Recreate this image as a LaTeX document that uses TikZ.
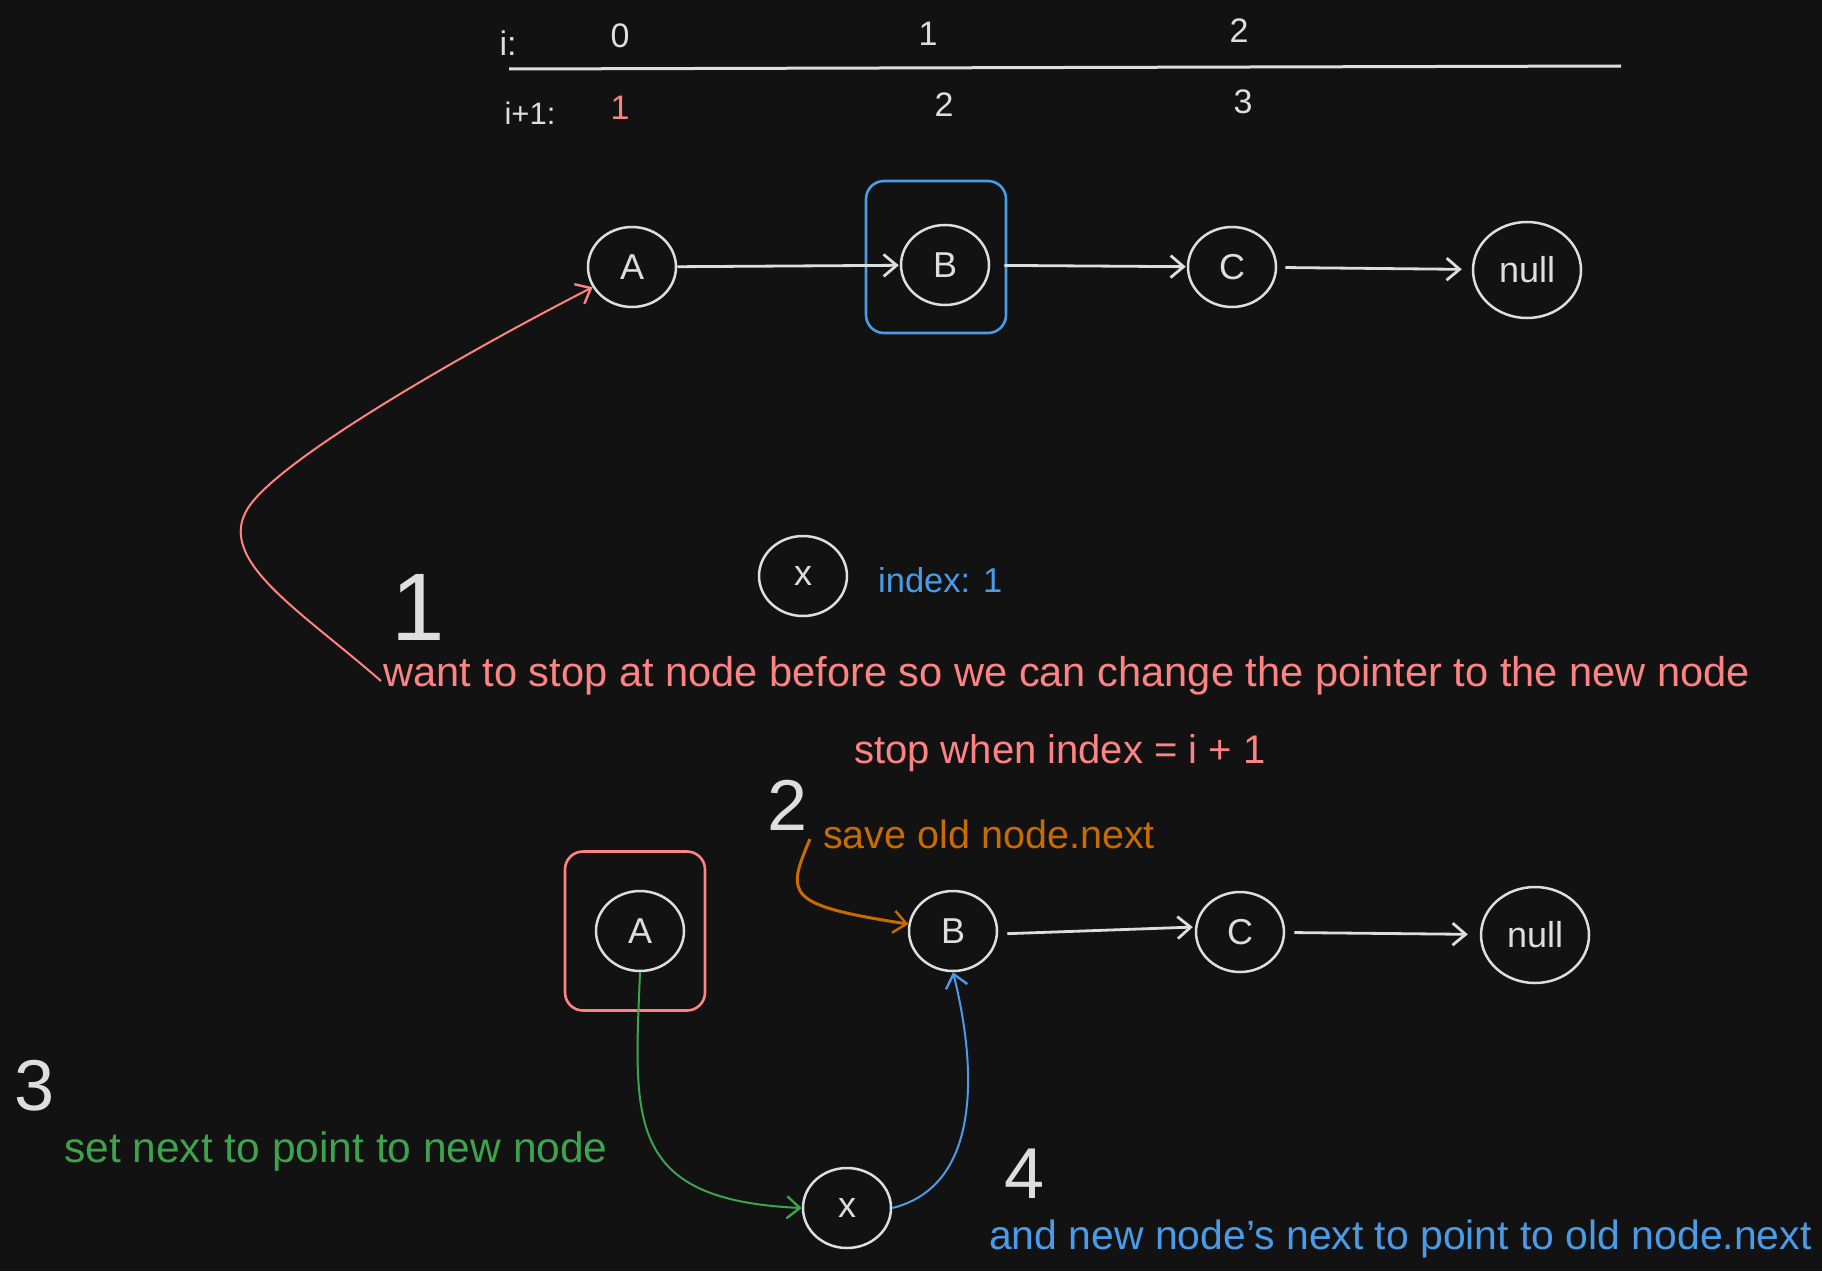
\documentclass[tikz,border=0pt]{standalone}
\usepackage{fontspec}
\setmainfont{Liberation Sans}
\usetikzlibrary{arrows.meta,shapes.geometric}
\definecolor{bg}{HTML}{121212}
\definecolor{wht}{HTML}{DEDEDE}
\definecolor{rd}{HTML}{FF8383}
\definecolor{bl}{HTML}{4A9BE8}
\definecolor{og}{HTML}{C86B00}
\definecolor{gr}{HTML}{3DA34D}
\begin{document}
\begin{tikzpicture}[x=1pt,y=-1pt,
  lnode/.style={draw=wht, line width=2.5pt, ellipse, inner sep=0pt,
    minimum width=88pt, minimum height=80pt, text=wht,
    font=\fontsize{36}{40}\selectfont},
  nullnode/.style={lnode, minimum width=108pt, minimum height=96pt},
  arr/.style={draw=wht, line width=2.8pt,
    -{Straight Barb[length=13pt,width=22pt,line width=2.8pt]}},
  carr/.style={line width=2pt,
    -{Straight Barb[length=13pt,width=22pt,line width=2.4pt]}},
  txt/.style={inner sep=0pt, font=\fontsize{38}{44}\selectfont},
  hdr/.style={inner sep=0pt, text=wht, font=\fontsize{34}{40}\selectfont},
  bigd/.style={inner sep=0pt, text=wht, font=\fontsize{72}{80}\selectfont},
  box/.style={rounded corners=18pt, line width=2.6pt, minimum width=140pt, inner sep=0pt}
]
\fill[bg] (0,0) rectangle (1822,1271);
\useasboundingbox (0,0) rectangle (1822,1271);

% header table
\node[hdr] (hi) at (508,43) {i:};
\node[hdr] (h0) at (620,36) {0};
\node[hdr] (h1) at (928,34) {1};
\node[hdr] (h2) at (1239,31) {2};
\coordinate (hl) at (509,69);
\coordinate (hr) at (1621,66);
\draw[wht, line width=3pt] (hl) -- (hr);
\node[hdr, font=\fontsize{31}{36}\selectfont] (hj) at (530,113) {i+1:};
\node[hdr, text=rd] (j1) at (620,108) {1};
\node[hdr] (j2) at (944,105) {2};
\node[hdr] (j3) at (1243,102) {3};

% top list
\node[box, draw=bl, minimum height=152pt] (bbox) at (936,257) {};
\node[lnode] (A1) at (632,267) {A};
\node[lnode] (B1) at (945,265) {B};
\node[lnode] (C1) at (1232,267) {C};
\node[nullnode] (N1) at (1527,270) {null};
\draw[arr, shorten >=1pt] (A1) -- (B1);
\draw[arr, shorten <=14pt, shorten >=1pt] (B1) -- (C1);
\draw[arr, shorten <=8pt, shorten >=10pt] (C1) -- (N1);

% middle
\node[lnode] (X1) at (803,576) {x};
\node[txt, text=bl, anchor=west, font=\fontsize{34.5}{40}\selectfont] (idx) at (878,580) {index: 1};
\node[bigd, font=\fontsize{96}{100}\selectfont] (d1) at (418,607) {1};
\node[txt, text=rd, anchor=base west, font=\fontsize{41.6}{46}\selectfont] (want) at (383,686)
  {want to stop at node before so we can change the pointer to the new node};
\node[txt, text=rd, anchor=base west, font=\fontsize{40}{46}\selectfont] (stop) at (854,763) {stop when index = i + 1};
\coordinate (rs) at (381,681);
\draw[carr, rd] (rs) .. controls (300,610) and (215,560) .. (248,508)
  .. controls (280,458) and (470,350) .. (A1);

% step 2
\node[bigd] (d2) at (788,805) {2};
\node[txt, text=og, anchor=base west, font=\fontsize{39.5}{46}\selectfont] (save) at (823,848) {save old node.next};
\coordinate (os) at (810,839);

% bottom list
\node[box, draw=rd, minimum height=159pt] (abox) at (635,931) {};
\node[lnode] (A2) at (640,931) {A};
\node[lnode] (B2) at (953,931) {B};
\node[lnode] (C2) at (1240,932) {C};
\node[nullnode] (N2) at (1535,935) {null};
\draw[arr, shorten <=9pt, shorten >=2pt] ([yshift=-3pt]B2.east) -- ([yshift=5pt]C2.west);
\draw[arr, shorten <=9pt, shorten >=12pt] (C2) -- (N2);
\draw[carr, og, line width=3pt] (os) .. controls (786,895) and (785,905) .. (B2);

\node[lnode] (X2) at (847,1208) {x};
\draw[carr, gr] (A2.south) .. controls (634,1120) and (625,1200) .. (X2.west);
\draw[carr, bl] (X2.east) .. controls (985,1185) and (975,1060) .. (B2.south);

\node[bigd] (d3) at (35,1086) {3};
\node[txt, text=gr, anchor=base west, font=\fontsize{42.5}{48}\selectfont] (setn) at (64,1162) {set next to point to new node};
\node[bigd] (d4) at (1025,1174) {4};
\node[txt, text=bl, anchor=base west, font=\fontsize{40.9}{46}\selectfont] (andn) at (989,1249)
  {and new node's next to point to old node.next};
\end{tikzpicture}
\end{document}
